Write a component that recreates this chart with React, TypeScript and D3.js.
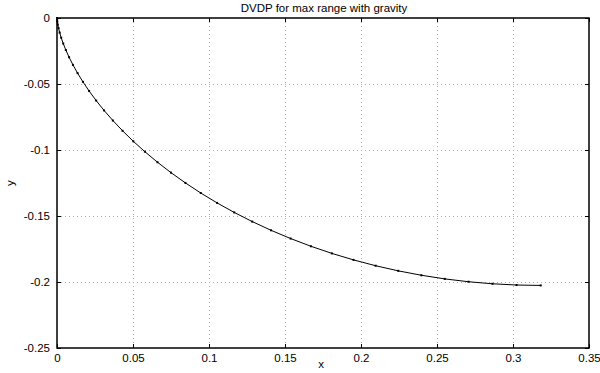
import React, { useRef, useEffect } from "react";
import * as d3 from "d3";

// path points (x, y)
const xs = [
  0, 0.0000082, 0.0000654, 0.00022, 0.000526, 0.00102, 0.00175, 0.00276, 0.0041, 0.00582,
  0.00793, 0.01049, 0.01352, 0.01706, 0.02113, 0.02575, 0.03095, 0.03675, 0.04315, 0.05018,
  0.05782, 0.06609, 0.07498, 0.08448, 0.0946, 0.10531, 0.1166, 0.12845, 0.14082, 0.1537,
  0.16705, 0.18085, 0.19505, 0.20962, 0.22452, 0.2397, 0.25511, 0.27073, 0.28649, 0.30234,
  0.31824,
];
const ys = [
  0, -0.000312, -0.001247, -0.0028, -0.00496, -0.00771, -0.01104, -0.01493, -0.01935, -0.02427,
  -0.02967, -0.03552, -0.04176, -0.04837, -0.05531, -0.06253, -0.07, -0.07766, -0.08546, -0.09335,
  -0.1013, -0.10925, -0.11714, -0.12494, -0.1326, -0.14007, -0.14729, -0.15423, -0.16084, -0.16708,
  -0.17293, -0.17833, -0.18325, -0.18767, -0.19156, -0.19489, -0.19765, -0.1998, -0.20135, -0.20229,
  -0.2026,
];
const xTicks = [0, 0.05, 0.1, 0.15, 0.2, 0.25, 0.3, 0.35];
const yTicks = [0, -0.05, -0.1, -0.15, -0.2, -0.25];

function App() {
  const svgRef = useRef<SVGSVGElement>(null);

  useEffect(() => {
    const w = 600;
    const h = 373;
    const m = { left: 57, right: 11, top: 18, bottom: 25 };
    const svg = d3.select(svgRef.current);
    svg.selectAll("*").remove();
    svg.attr("width", w).attr("height", h);

    const pw = w - m.left - m.right;
    const ph = h - m.top - m.bottom;
    const x = d3.scaleLinear().domain([0, 0.35]).range([m.left, m.left + pw]);
    const y = d3.scaleLinear().domain([-0.25, 0]).range([m.top + ph, m.top]);

    const font = "Liberation Sans, Arial, sans-serif";
    const fs = 11.5;

    // grid lines (dotted)
    const grid = svg.append("g").attr("stroke", "#aaa").attr("stroke-width", 1)
      .attr("stroke-dasharray", "1,3");
    grid.selectAll(".gx").data(xTicks.slice(1, -1)).enter().append("line")
      .attr("x1", (d) => Math.round(x(d)) + 0.5).attr("x2", (d) => Math.round(x(d)) + 0.5)
      .attr("y1", m.top).attr("y2", m.top + ph);
    grid.selectAll(".gy").data(yTicks.slice(1, -1)).enter().append("line")
      .attr("y1", (d) => Math.round(y(d)) + 0.5).attr("y2", (d) => Math.round(y(d)) + 0.5)
      .attr("x1", m.left).attr("x2", m.left + pw);

    // axes, ticks pointing inward on every side
    const bottom = d3.axisBottom(x).tickValues(xTicks).tickSizeInner(-4).tickSizeOuter(0)
      .tickPadding(6).tickFormat((d) => String(+d));
    const top = d3.axisTop(x).tickValues(xTicks).tickSizeInner(-4).tickSizeOuter(0).tickFormat(() => "");
    const left = d3.axisLeft(y).tickValues(yTicks).tickSizeInner(-4).tickSizeOuter(0)
      .tickPadding(7).tickFormat((d) => String(+d));
    const right = d3.axisRight(y).tickValues(yTicks).tickSizeInner(-4).tickSizeOuter(0).tickFormat(() => "");

    svg.append("g").attr("transform", `translate(0,${m.top + ph})`).call(bottom);
    svg.append("g").attr("transform", `translate(0,${m.top})`).call(top);
    svg.append("g").attr("transform", `translate(${m.left},0)`).call(left);
    svg.append("g").attr("transform", `translate(${m.left + pw},0)`).call(right);
    svg.selectAll(".domain").remove();
    svg.selectAll(".tick line").attr("stroke", "#000");
    svg.selectAll(".tick text").attr("font-family", font).attr("font-size", fs).attr("fill", "#000");

    // frame
    svg.append("rect").attr("x", m.left).attr("y", m.top).attr("width", pw).attr("height", ph)
      .attr("fill", "none").attr("stroke", "#000").attr("stroke-width", 1.5);

    // curve
    const pts = xs.map((v, i) => [v, ys[i]] as [number, number]);
    const line = d3.line<[number, number]>().x((d) => x(d[0])).y((d) => y(d[1]));
    svg.append("path").datum(pts).attr("d", line).attr("fill", "none")
      .attr("stroke", "#000").attr("stroke-width", 1);
    svg.selectAll(".pt").data(pts).enter().append("rect")
      .attr("x", (d) => x(d[0]) - 1).attr("y", (d) => y(d[1]) - 1)
      .attr("width", 2).attr("height", 2).attr("fill", "#000");

    // labels
    svg.append("text").attr("x", m.left + pw / 2 + 1).attr("y", 12).attr("text-anchor", "middle")
      .attr("font-family", font).attr("font-size", fs).text("DVDP for max range with gravity");
    svg.append("text").attr("x", m.left + pw / 2 - 2).attr("y", 368).attr("text-anchor", "middle")
      .attr("font-family", font).attr("font-size", fs).text("x");
    svg.append("text").attr("transform", "translate(14,183) rotate(-90)").attr("text-anchor", "middle")
      .attr("font-family", font).attr("font-size", fs).text("y");
  }, []);

  return (
    <svg ref={svgRef} style={{ position: "absolute", left: 0, top: 0, background: "#fff" }}></svg>
  );
}

export default App;
